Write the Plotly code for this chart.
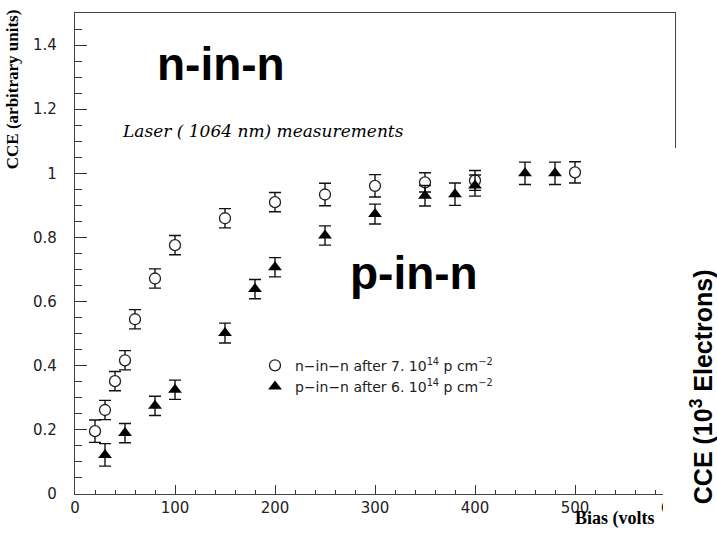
import plotly.graph_objects as go

# ---- data ----
nin_bias = [20, 30, 40, 50, 60, 80, 100, 150, 200, 250, 300, 350, 400, 500]
nin_cce = [0.196, 0.262, 0.352, 0.417, 0.545, 0.672, 0.776, 0.860, 0.910, 0.934, 0.961, 0.972, 0.978, 1.003]
nin_err = [0.035, 0.030, 0.030, 0.030, 0.030, 0.030, 0.030, 0.030, 0.030, 0.035, 0.035, 0.030, 0.031, 0.033]

pin_bias = [30, 50, 80, 100, 150, 180, 200, 250, 300, 350, 380, 400, 450, 480]
pin_cce = [0.122, 0.190, 0.275, 0.325, 0.502, 0.639, 0.707, 0.806, 0.873, 0.930, 0.935, 0.962, 1.000, 1.000]
pin_err = [0.035, 0.030, 0.030, 0.030, 0.031, 0.030, 0.030, 0.030, 0.031, 0.032, 0.035, 0.033, 0.035, 0.035]

x_ticks = [0, 100, 200, 300, 400, 500, 600]
y_ticks = [0, 0.2, 0.4, 0.6, 0.8, 1.0, 1.2, 1.4]
y_ticklabels = ["0", "0.2", "0.4", "0.6", "0.8", "1", "1.2", "1.4"]

nin_label = "n\u2212in\u2212n after 7. 10<sup>14</sup> p cm<sup>\u22122</sup>"
pin_label = "p\u2212in\u2212n after 6. 10<sup>14</sup> p cm<sup>\u22122</sup>"

fig = go.Figure()
fig.add_trace(go.Scatter(
    x=nin_bias, y=nin_cce, mode="markers", name=nin_label,
    marker=dict(symbol="circle", size=11, color="white", line=dict(color="#222", width=1.3)),
    error_y=dict(type="data", array=nin_err, visible=True, thickness=1.4, width=6, color="#111"),
))
fig.add_trace(go.Scatter(
    x=pin_bias, y=pin_cce, mode="markers", name=pin_label,
    marker=dict(symbol="triangle-up", size=12, color="black", line=dict(width=0)),
    error_y=dict(type="data", array=pin_err, visible=True, thickness=1.4, width=6, color="#111"),
))

axis_font = dict(family="DejaVu Sans", size=15, color="#222")
fig.update_xaxes(
    range=[0, 600], tickvals=x_ticks, ticks="inside", ticklen=9, tickwidth=1, tickcolor="#333",
    minor=dict(dtick=20, ticks="inside", ticklen=4, tickcolor="#333", tickwidth=1),
    showline=True, mirror=True, linecolor="#444", linewidth=1.2,
    showgrid=False, zeroline=False, tickfont=axis_font, ticklabelstandoff=0,
)
fig.update_yaxes(
    range=[0, 1.5], tickvals=y_ticks, ticktext=y_ticklabels, ticks="inside", ticklen=12, tickwidth=1,
    tickcolor="#333",
    minor=dict(dtick=0.05, ticks="inside", ticklen=7, tickcolor="#333", tickwidth=1),
    showline=True, mirror=True, linecolor="#444", linewidth=1.2,
    showgrid=False, zeroline=False, tickfont=axis_font, ticklabelstandoff=14,
)

annotations = [
    dict(text="n-in-n", x=146, y=1.34, xref="x", yref="y", showarrow=False,
         xanchor="center", yanchor="middle",
         font=dict(family="Liberation Sans", size=46, color="black", weight="bold")),
    dict(text="p-in-n", x=339, y=0.69, xref="x", yref="y", showarrow=False,
         xanchor="center", yanchor="middle",
         font=dict(family="Liberation Sans", size=46, color="black", weight="bold")),
    dict(text="Laser ( 1064 nm) measurements", x=188, y=1.131, xref="x", yref="y", showarrow=False,
         xanchor="center", yanchor="middle",
         font=dict(family="DejaVu Serif", size=17, color="black", style="italic")),
    dict(text="CCE (arbitrary units)", x=-0.103, y=0.842, xref="paper", yref="paper", showarrow=False,
         xanchor="center", yanchor="middle", textangle=-90,
         font=dict(family="Liberation Serif", size=17, color="black", weight="bold")),
    dict(text="Bias (volts", x=498, y=-0.05, xref="x", yref="paper", xanchor="left", yanchor="middle",
         showarrow=False,
         font=dict(family="Liberation Serif", size=18, color="black", weight="bold")),
    dict(text="CCE (10<sup>3</sup> Electrons)", x=1.045, y=0.222, xref="paper", yref="paper",
         showarrow=False, textangle=-90, xanchor="center", yanchor="middle",
         font=dict(family="Liberation Sans", size=25, color="black", weight="bold")),
]

fig.update_layout(
    width=717, height=535,
    margin=dict(l=75, r=42, t=13, b=41),
    paper_bgcolor="white", plot_bgcolor="white",
    showlegend=True,
    legend=dict(x=0.30, y=0.30, xanchor="left", yanchor="top", bgcolor="rgba(0,0,0,0)",
                font=dict(family="DejaVu Sans", size=14, color="#222"), tracegroupgap=0),
    annotations=annotations,
    shapes=[dict(type="rect", xref="paper", yref="paper", x0=0.98, x1=1.08, y0=-0.09, y1=0.7193,
                 fillcolor="white", line=dict(width=0), layer="above")],
)

fig.write_html("out.html")
